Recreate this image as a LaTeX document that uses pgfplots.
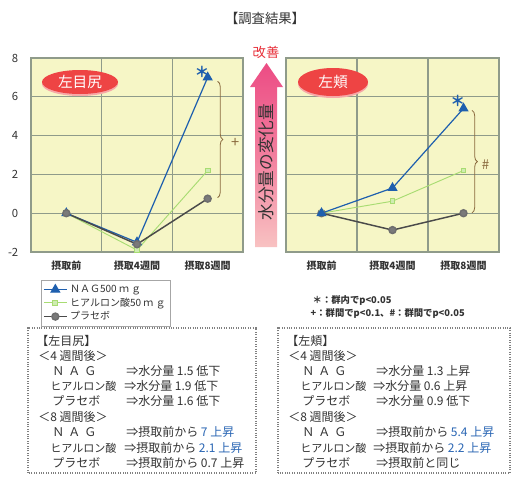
\documentclass[border=0pt]{standalone}
\usepackage{fontspec}
\setmainfont{Noto Sans CJK JP}
\usepackage{pgfplots}
\pgfplotsset{compat=1.18}
\usetikzlibrary{decorations.pathreplacing}

\definecolor{bgyel}{HTML}{F6F6C6}
\definecolor{gridc}{HTML}{8F9B8A}
\definecolor{nagc}{HTML}{1E5FAE}
\definecolor{hyac}{HTML}{A8DC72}
\definecolor{plac}{HTML}{4A4A4A}
\definecolor{plam}{HTML}{7A7A7A}
\definecolor{braceb}{HTML}{8A6A3E}
\definecolor{txt}{HTML}{333333}
\definecolor{valb}{HTML}{2A66B4}
\definecolor{lblred}{HTML}{EE4444}
\definecolor{lblsh}{HTML}{F7A8A8}
\definecolor{kaizen}{HTML}{E8303A}
\definecolor{arrtop}{HTML}{EC4C84}
\definecolor{arrmid}{HTML}{F27E9E}
\definecolor{arrbot}{HTML}{F8C2C2}

\pgfplotsset{
  kesho/.style={
    scale only axis, height=145.5pt,
    xmin=-0.5, xmax=2.5, ymin=-2, ymax=8,
    xtick={0,1,2}, xticklabels={摂取前,摂取4週間,摂取8週間},
    minor xtick={0.5,1.5}, xminorgrids=true, ymajorgrids=true,
    ytick={-2,0,...,8},
    major tick length=0pt, minor tick length=0pt,
    axis background/.style={fill=bgyel},
    grid style={gridc, line width=0.8pt},
    minor grid style={gridc, line width=0.8pt},
    axis line style={gridc, line width=0.8pt},
    xticklabel style={font=\fontsize{7.5}{9}\selectfont\bfseries, text=txt, yshift=-3pt},
    yticklabel style={font=\fontsize{8.5}{10}\selectfont, text=txt, xshift=-6pt},
    /pgf/number format/assume math mode=true,
    clip=false,
  },
  nag/.style={nagc, line width=0.9pt, mark=triangle*, mark size=3.6pt,
    mark options={fill=nagc, draw=nagc}},
  hya/.style={hyac, line width=0.7pt, mark=square*, mark size=1.8pt,
    mark options={fill=hyac!55, draw=hyac}},
  pla/.style={plac, line width=1.1pt, mark=*, mark size=2.6pt,
    mark options={fill=plam, draw=plac!80}},
}

\newcommand{\bx}{\fontsize{9}{10}\selectfont\color{txt}}
\newcommand{\hy}{{\fontsize{8.3}{10}\selectfont ヒアルロン酸}}
\newcommand{\nag}{Ｎ\hspace{3pt}Ａ\hspace{3pt}Ｇ}

\begin{document}
\begin{tikzpicture}[x=0.75pt, y=0.75pt]
\path[use as bounding box, fill=white] (0,0) rectangle (530,494);

% title
\node[font=\fontsize{10}{12}\selectfont, text=txt] at (265,476) {【調査結果】};

% left chart
\begin{axis}[kesho, width=159pt, at={(23.25pt,181.5pt)}, anchor=south west,
  legend style={at={(0.047,-0.144)}, anchor=north west, draw=gray!70,
    font=\fontsize{7.5}{9}\selectfont, text=txt, row sep=-1.5pt,
    inner sep=1.5pt, cells={anchor=west}}]
\addplot[nag] coordinates {(0,0) (1,-1.5) (2,7)};
\addlegendentry{ＮＡＧ500 ｍ ｇ}
\addplot[hya] coordinates {(0,0) (1,-1.9) (2,2.2)};
\addlegendentry{ヒアルロン酸50 ｍ ｇ}
\addplot[pla] coordinates {(0,0) (1,-1.6) (2,0.75)};
\addlegendentry{プラセボ}
\node[text=nagc, font=\fontsize{11}{11}\selectfont\bfseries] at (axis cs:1.92,7.3) {＊};
\draw[braceb, line width=0.6pt, decorate, decoration={brace, amplitude=4pt}]
  (axis cs:2.14,6.8) -- (axis cs:2.14,0.8);
\node[text=braceb, font=\fontsize{11}{11}\selectfont] at (axis cs:2.39,3.6) {+};
\end{axis}

% right chart
\begin{axis}[kesho, width=159.75pt, at={(214.5pt,181.5pt)}, anchor=south west,
  yticklabels={}]
\addplot[pla] coordinates {(0,0) (1,-0.87) (2,0)};
\addplot[hya] coordinates {(0,0) (1,0.62) (2,2.2)};
\addplot[nag] coordinates {(0,0) (1,1.3) (2,5.4)};
\node[text=nagc, font=\fontsize{11}{11}\selectfont\bfseries] at (axis cs:1.92,5.8) {＊};
\draw[braceb, line width=0.6pt, decorate, decoration={brace, amplitude=4pt}]
  (axis cs:2.12,5.3) -- (axis cs:2.12,0.02);
\node[text=braceb, font=\fontsize{10}{10}\selectfont] at (axis cs:2.31,2.5) {\#};
\end{axis}

% label ellipses
\fill[lblsh] (80,410) ellipse [x radius=38, y radius=12];
\fill[lblred] (80,412) ellipse [x radius=38, y radius=12];
\node[text=white, font=\fontsize{11}{12}\selectfont] at (80,412) {左目尻};
\fill[lblsh] (333,410) ellipse [x radius=35, y radius=14];
\fill[lblred] (333,412) ellipse [x radius=35, y radius=14];
\node[text=white, font=\fontsize{11}{12}\selectfont] at (333,412) {左頬};

% improvement arrow
\shade[top color=arrtop, bottom color=arrbot, middle color=arrmid]
  (255,247) -- (255,407) -- (250,407) -- (266.5,431) -- (283,407) -- (277,407) -- (277,247) -- cycle;
\node[text=kaizen, font=\fontsize{10}{12}\selectfont] at (266,442) {改善};
\node[rotate=90, text=txt, font=\fontsize{12.5}{13}\selectfont] at (266,332) {水分量の変化量};

% significance notes
\node[anchor=west, text=txt, font=\fontsize{7}{8}\selectfont\bfseries] at (308,194) {＊：群内でp<0.05};
\node[anchor=west, text=txt, font=\fontsize{7}{8}\selectfont\bfseries] at (306,181) {+：群間でp<0.1、\#：群間でp<0.05};

% summary boxes
\draw[gray, densely dotted, line width=0.8pt] (28,21) rectangle (256,166);
\draw[gray, densely dotted, line width=0.8pt] (278,21) rectangle (510,166);

\begin{scope}[every node/.style={anchor=west, inner sep=0pt, font=\bx}]
\node at (36,153) {【左目尻】};
\node at (38,138) {＜4 週間後＞};
\node at (52,123) {\nag};  \node at (126,123) {⇒水分量 1.5 低下};
\node at (50,108) {\hy};   \node at (124,108) {⇒水分量 1.9 低下};
\node at (52,93)  {プラセボ}; \node at (126,93)  {⇒水分量 1.6 低下};
\node at (38,77)  {＜8 週間後＞};
\node at (52,62)  {\nag};  \node at (126,62)  {⇒摂取前から \textcolor{valb}{7 上昇}};
\node at (50,46)  {\hy};   \node at (124,46)  {⇒摂取前から \textcolor{valb}{2.1 上昇}};
\node at (52,31)  {プラセボ}; \node at (126,31)  {⇒摂取前から 0.7 上昇};

\node at (286,153) {【左頬】};
\node at (288,138) {＜4 週間後＞};
\node at (302,123) {\nag};  \node at (376,123) {⇒水分量 1.3 上昇};
\node at (300,108) {\hy};   \node at (373,108) {⇒水分量 0.6 上昇};
\node at (302,93)  {プラセボ}; \node at (376,93)  {⇒水分量 0.9 低下};
\node at (288,77)  {＜8 週間後＞};
\node at (302,62)  {\nag};  \node at (376,62)  {⇒摂取前から \textcolor{valb}{5.4 上昇}};
\node at (300,46)  {\hy};   \node at (373,46)  {⇒摂取前から \textcolor{valb}{2.2 上昇}};
\node at (302,31)  {プラセボ}; \node at (376,31)  {⇒摂取前と同じ};
\end{scope}
\end{tikzpicture}
\end{document}
